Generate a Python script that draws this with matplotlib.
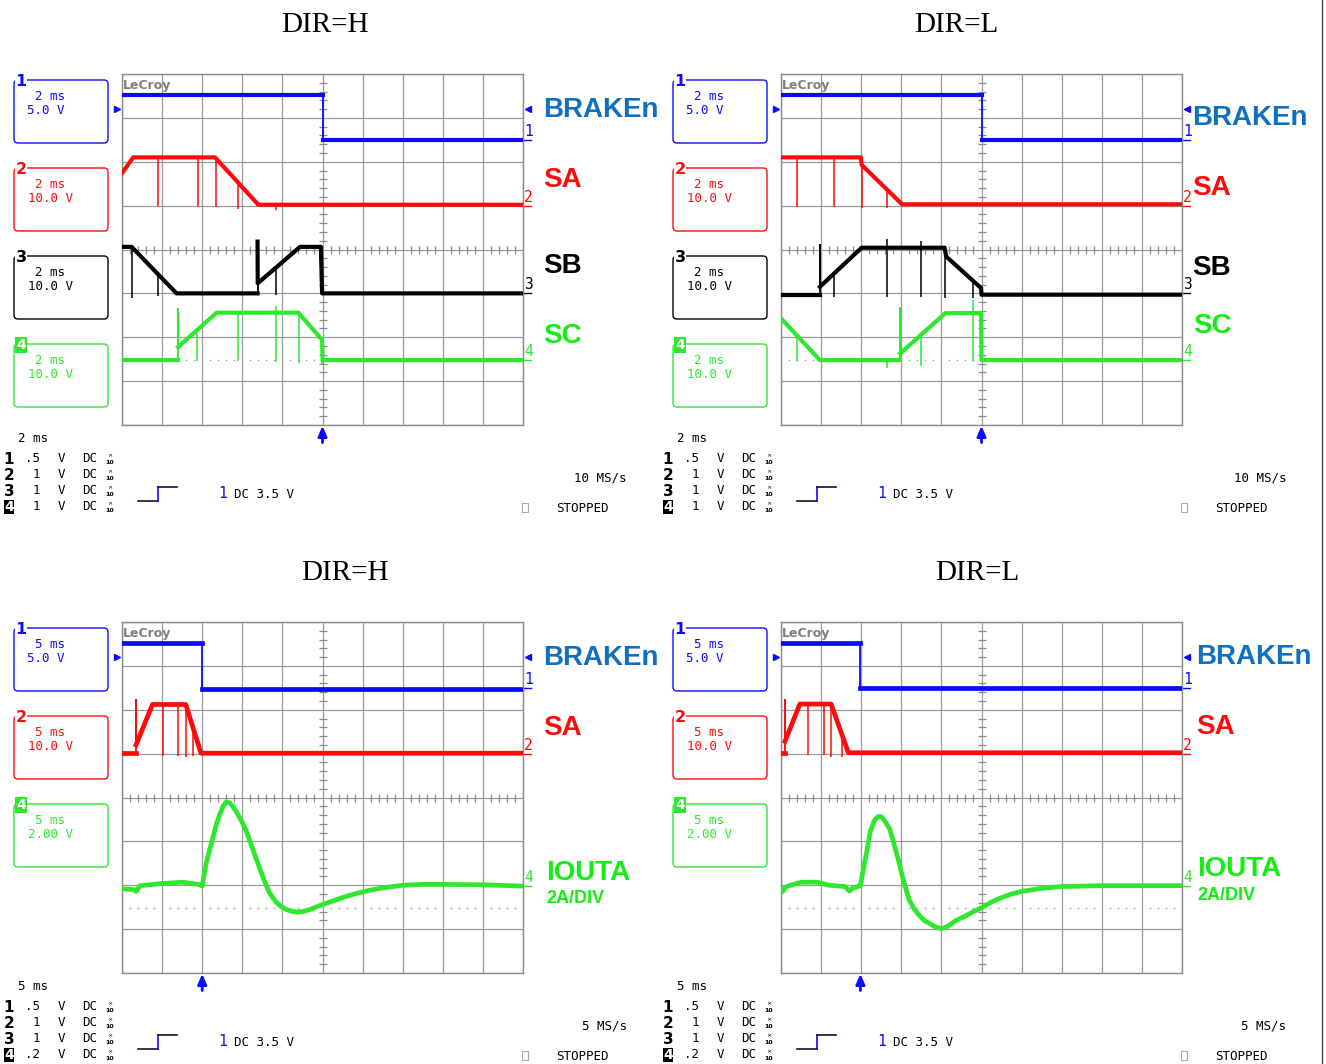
import matplotlib.pyplot as plt
import numpy as np
from matplotlib.patches import FancyBboxPatch, Rectangle

# all trace values are in screen divisions (x: 0..10, y: 0..8 from bottom)

# --- top left, DIR=H, 2 ms/div ---
tl_brake_t = [0, 5.0, 5.0, 10]
tl_brake_v = [7.52, 7.52, 6.5, 6.5]
tl_sa_t = [0, 0.28, 2.32, 3.40, 10]
tl_sa_v = [5.74, 6.1, 6.1, 5.02, 5.02]
tl_sa_spikes = [(0.89, 6.1, 5.0), (1.89, 6.1, 5.0), (2.34, 6.1, 4.98), (2.90, 5.52, 4.92), (3.84, 5.02, 4.9)]
tl_sb_t = [0, 0.24, 1.36, 3.38, 3.38, 3.385, 4.44, 4.96, 4.99, 10]
tl_sb_v = [4.06, 4.06, 3.0, 3.0, 4.18, 3.23, 4.06, 4.06, 3.0, 3.0]
tl_sb_spikes = [(0.24, 4.06, 2.9), (0.9, 3.44, 2.93), (3.83, 3.56, 2.96)]
tl_sc_t = [0, 1.40, 1.40, 1.40, 2.36, 4.40, 4.99, 5.0, 10]
tl_sc_v = [1.48, 1.48, 2.64, 1.78, 2.56, 2.56, 1.94, 1.48, 1.48]
tl_sc_spikes = [(1.88, 2.1, 1.46), (2.9, 2.56, 1.46), (3.83, 2.72, 1.43), (4.41, 2.56, 1.42), (4.99, 1.94, 1.38)]

# --- top right, DIR=L, 2 ms/div ---
tr_brake_t = [0, 5.0, 5.0, 10]
tr_brake_v = [7.52, 7.52, 6.5, 6.5]
tr_sa_t = [0, 1.99, 2.01, 3.02, 10]
tr_sa_v = [6.1, 6.1, 5.93, 5.03, 5.03]
tr_sa_spikes = [(0.41, 6.1, 4.98), (1.33, 6.1, 4.98), (2.01, 6.1, 4.95), (2.64, 5.37, 4.95)]
tr_sb_t = [0, 0.97, 0.97, 0.97, 2.01, 4.08, 4.12, 4.99, 5.0, 10]
tr_sb_v = [2.97, 2.97, 4.1, 3.15, 4.04, 4.04, 3.84, 3.12, 2.97, 2.97]
tr_sb_spikes = [(1.33, 3.44, 2.92), (2.64, 4.23, 2.92), (3.49, 4.19, 2.92), (4.1, 4.04, 2.9), (4.8, 3.28, 2.9)]
tr_sc_t = [0, 0.97, 2.97, 2.97, 2.97, 4.1, 4.99, 5.0, 10]
tr_sc_v = [2.43, 1.48, 1.48, 2.66, 1.63, 2.55, 2.55, 1.48, 1.48]
tr_sc_spikes = [(0.41, 2.03, 1.45), (2.64, 1.48, 1.3), (3.49, 2.03, 1.35), (4.79, 2.85, 1.45)]

# --- bottom left, DIR=H, 5 ms/div ---
bl_brake_t = [0, 2.0, 2.0, 10]
bl_brake_v = [7.51, 7.51, 6.48, 6.48]
bl_sa_t = [0, 0.35, 0.35, 0.35, 0.76, 1.59, 1.97, 10]
bl_sa_v = [5.01, 5.01, 6.23, 5.2, 6.12, 6.12, 5.01, 5.01]
bl_sa_spikes = [(1.01, 6.12, 4.95), (1.39, 6.12, 4.95), (1.59, 6.12, 4.92), (1.76, 5.62, 4.95)]
bl_iout_t = [0, 0.3, 0.35, 0.45, 1.0, 1.5, 1.9, 2.0, 2.05, 2.1, 2.2, 2.27, 2.35, 2.43, 2.52, 2.6,
             2.68, 2.76, 2.85, 2.93, 3.01, 3.1, 3.18, 3.3, 3.42, 3.55, 3.67, 3.76, 3.84, 3.96, 4.09,
             4.22, 4.35, 4.5, 4.67, 4.83, 5.0, 5.25, 5.5, 5.75, 6.0, 6.25, 6.5, 6.75, 7.0, 7.5, 8.0,
             9.0, 10.0]
bl_iout_v = [1.92, 1.9, 1.86, 1.99, 2.04, 2.07, 2.02, 1.98, 2.25, 2.5, 2.85, 3.1, 3.38, 3.6, 3.8, 3.9,
             3.88, 3.8, 3.68, 3.55, 3.41, 3.23, 3.03, 2.72, 2.42, 2.1, 1.84, 1.72, 1.62, 1.52, 1.45,
             1.41, 1.39, 1.4, 1.44, 1.5, 1.56, 1.64, 1.72, 1.79, 1.85, 1.9, 1.94, 1.97, 2.0, 2.02, 2.02,
             2.01, 1.98]

# --- bottom right, DIR=L, 5 ms/div ---
br_brake_t = [0, 1.98, 1.98, 10]
br_brake_v = [7.53, 7.53, 6.5, 6.5]
br_sa_t = [0, 0.1, 0.1, 0.1, 0.47, 1.25, 1.68, 10]
br_sa_v = [5.02, 5.02, 6.23, 5.28, 6.13, 6.13, 5.02, 5.02]
br_sa_spikes = [(0.68, 6.13, 4.98), (1.06, 6.13, 4.98), (1.25, 6.13, 4.92), (1.51, 5.46, 4.93)]
br_iout_t = [0, 0.05, 0.1, 0.2, 0.5, 0.9, 1.2, 1.6, 1.7, 1.78, 1.98, 2.06, 2.14, 2.22, 2.33, 2.4,
             2.45, 2.52, 2.6, 2.7, 2.78, 2.86, 2.95, 3.03, 3.12, 3.2, 3.32, 3.45, 3.57, 3.7, 3.85,
             4.0, 4.15, 4.37, 4.6, 4.8, 5.03, 5.25, 5.5, 5.75, 6.0, 6.5, 7.0, 8.0, 9.0, 10.0]
br_iout_v = [1.93, 1.86, 1.95, 1.99, 2.07, 2.07, 2.0, 1.97, 1.87, 1.93, 1.99, 2.4, 2.77, 3.2, 3.48, 3.55,
             3.57, 3.55, 3.45, 3.3, 3.07, 2.8, 2.5, 2.19, 1.9, 1.66, 1.46, 1.31, 1.2, 1.13, 1.05,
             1.01, 1.06, 1.2, 1.3, 1.4, 1.5, 1.62, 1.72, 1.8, 1.86, 1.93, 1.97, 1.99, 1.99, 1.99]

# channel ground markers on the right edge (ch1, ch2, ch3, ch4)
top_gnd = [6.5, 5.0, 3.0, 1.48]
bot_gnd = [6.5, 5.0, None, 1.98]
ref_dotted = 1.48
trig_volts = 3.5
ch1_vdiv = 5.0

top_boxes = [('1', '2 ms', '5.0 V'), ('2', '2 ms', '10.0 V'), ('3', '2 ms', '10.0 V'), ('4', '2 ms', '10.0 V')]
bot_boxes = [('1', '5 ms', '5.0 V'), ('2', '5 ms', '10.0 V'), ('4', '5 ms', '2.00 V')]
top_probe = ['.5', '1', '1', '1']
bot_probe = ['.5', '1', '1', '.2']

W, H = 1326, 1064
GW, GH = 401, 351
BLUE, RED, BLACK, GREEN = '#0a0aff', '#ff0a0a', '#000000', '#2ee82e'
LBLUE, LGREEN = '#1070c0', '#11ee11'
CH_COL = {'1': BLUE, '2': RED, '3': BLACK, '4': GREEN}
MONO = 'DejaVu Sans Mono'

fig = plt.figure(figsize=(W / 100, H / 100), dpi=100)
ov = fig.add_axes([0, 0, 1, 1])
ov.set_xlim(0, W)
ov.set_ylim(H, 0)
ov.axis('off')
ov.plot([1322, 1322], [0, H], color='#444444', lw=1)


def draw_trace(ax, t, v, col, lw):
    # thick runs, thin exactly vertical edges (like the scope's fast edges)
    run_t, run_v = [t[0]], [v[0]]
    for i in range(1, len(t)):
        if t[i] == t[i - 1]:
            if len(run_t) > 1:
                ax.plot(run_t, run_v, color=col, lw=lw, zorder=4, solid_joinstyle='round')
            ax.plot([t[i - 1], t[i]], [v[i - 1], v[i]], color=col, lw=1.3, zorder=4)
            run_t, run_v = [t[i]], [v[i]]
        else:
            run_t.append(t[i])
            run_v.append(v[i])
    if len(run_t) > 1:
        ax.plot(run_t, run_v, color=col, lw=lw, zorder=4, solid_joinstyle='round')


def scope(x0, y0, chans, gnd, trig_t, lw=3.0):
    ax = fig.add_axes([x0 / W, 1 - (y0 + GH) / H, GW / W, GH / H])
    ax.set_facecolor('none')
    ax.set_xlim(0, 10)
    ax.set_ylim(0, 8)
    ax.set_xticks(range(11))
    ax.set_yticks(range(9))
    ax.tick_params(length=0, labelbottom=False, labelleft=False)
    ax.grid(True, color='#9a9a9a', lw=0.9)
    ax.set_axisbelow(True)
    for s in ax.spines.values():
        s.set_color('#8a8a8a')
        s.set_linewidth(1.0)
    minor_x = [v for v in np.arange(0.2, 10, 0.2) if abs(v - round(v)) > 0.01]
    minor_y = [v for v in np.arange(0.2, 8, 0.2) if abs(v - round(v)) > 0.01]
    ax.plot([5] * len(minor_y), minor_y, ls='none', marker='_', ms=6, mew=0.9, color='#8a8a8a', zorder=1)
    ax.plot(minor_x, [4] * len(minor_x), ls='none', marker='|', ms=6, mew=0.9, color='#8a8a8a', zorder=1)
    ax.plot(minor_x, [ref_dotted] * len(minor_x), ls='none', marker='s', ms=1.1, mew=0,
            color='#a8a8a8', zorder=1)
    ax.text(0.03, 7.88, 'LeCroy', fontsize=9, color='#808080', fontweight='bold', va='top', ha='left')
    ax.plot([0.05, 0.97], [7.52, 7.52], color='#808080', lw=0.9)
    for t, v, spikes, col in chans:
        for xs, a, b in spikes:
            ax.vlines(xs, b, a, color=col, lw=1.1, zorder=3)
        draw_trace(ax, t, v, col, lw)
    # ground markers
    for name, lvl in zip(['1', '2', '3', '4'], gnd):
        if lvl is None:
            continue
        ax.plot([10.0, 10.2], [lvl, lvl], color=CH_COL[name], lw=1, clip_on=False)
        ax.text(10.03, lvl + 0.02, name, color=CH_COL[name], fontsize=10.5, fontfamily=MONO,
                ha='left', va='bottom', clip_on=False)
    tl = gnd[0] + trig_volts / ch1_vdiv
    ax.plot(-0.12, tl, marker='>', ms=4, color=BLUE, clip_on=False)
    ax.plot(10.13, tl, marker='<', ms=4, color=BLUE, clip_on=False)
    ax.annotate('', xy=(trig_t, -0.02), xytext=(trig_t, -0.4), annotation_clip=False,
                arrowprops=dict(arrowstyle='-|>,head_width=0.22,head_length=0.5', color=BLUE, lw=2.0,
                                mutation_scale=12, shrinkA=0, shrinkB=0))
    return ax


def boxes(dx, tops, items):
    for y0, (ch, ms, vd) in zip(tops, items):
        col = CH_COL[ch]
        ov.add_patch(FancyBboxPatch((14 + dx, y0), 94, 63, boxstyle='round,pad=0,rounding_size=4',
                                    fc='white', ec=col, lw=1))
        if ch == '4':
            ov.text(21 + dx, y0 + 1, ch, color='white', fontsize=10, fontweight='bold', ha='center',
                    va='center', bbox=dict(fc=GREEN, ec='none', pad=0.6))
        else:
            ov.text(21 + dx, y0 + 1, ch, color=col, fontsize=11.5, fontweight='bold', ha='center',
                    va='center', bbox=dict(fc='white', ec='none', pad=0.2))
        ov.text(35 + dx, y0 + 16, ms, color=col, fontsize=9, fontfamily=MONO, va='center')
        ov.text(27 + dx if len(vd) == 5 else 28 + dx, y0 + 31, vd, color=col, fontsize=9,
                fontfamily=MONO, va='center')


def footer(dx, dy, tb, probe, rate):
    ov.text(18 + dx, 438 + dy, f'{tb} ms', fontsize=9, fontfamily=MONO, va='center')
    for i, p in enumerate(probe):
        y = 459 + 16 * i + dy
        if i == 3:
            ov.text(9 + dx, y, str(i + 1), fontsize=10, fontweight='bold', color='white', ha='center',
                    va='center', bbox=dict(fc='black', ec='none', pad=0.3))
        else:
            ov.text(9 + dx, y, str(i + 1), fontsize=11, fontweight='bold', ha='center', va='center')
        ov.text(40 + dx, y, p, fontsize=9, fontfamily=MONO, ha='right', va='center')
        ov.text(58 + dx, y, 'V', fontsize=9, fontfamily=MONO, va='center')
        ov.text(82 + dx, y, 'DC', fontsize=9, fontfamily=MONO, va='center')
        ov.text(110 + dx, y - 3, '×', fontsize=4.5, ha='center', va='center')
        ov.text(110 + dx, y + 3, '10', fontsize=4.5, fontweight='bold', ha='center', va='center')
    ov.plot([138 + dx, 158 + dx], [501 + dy, 501 + dy], color='#111133', lw=1.2)
    ov.plot([158 + dx, 158 + dx], [501 + dy, 487 + dy], color=BLUE, lw=1.2)
    ov.plot([158 + dx, 177 + dx], [487 + dy, 487 + dy], color='#111133', lw=1.2)
    ov.text(218 + dx, 494 + dy, '1', color=BLUE, fontsize=10.5, fontfamily=MONO, va='center')
    ov.text(234 + dx, 494 + dy, 'DC 3.5 V', fontsize=9, fontfamily=MONO, va='center')
    ov.text(627 + dx, 478 + dy, rate, fontsize=9, fontfamily=MONO, ha='right', va='center')
    ov.add_patch(Rectangle((522 + dx, 503 + dy), 6, 9, fc='none', ec='#aaaaaa', lw=0.8))
    ov.text(556 + dx, 509 + dy, 'STOPPED', fontsize=9, fontfamily=MONO, va='center')


def side(x, y, s, col, size=20):
    ov.text(x, y, s, color=col, fontsize=size, fontweight='bold', fontfamily='Liberation Sans',
            ha='left', va='baseline')


# titles
for x, y, s in [(325, 32, 'DIR=H'), (956, 32, 'DIR=L'), (345, 580, 'DIR=H'), (977, 580, 'DIR=L')]:
    ov.text(x, y, s, fontsize=21, fontfamily='Liberation Serif', ha='center', va='baseline')

scope(122, 74, [(tl_brake_t, tl_brake_v, [], BLUE), (tl_sa_t, tl_sa_v, tl_sa_spikes, RED),
                (tl_sb_t, tl_sb_v, tl_sb_spikes, BLACK), (tl_sc_t, tl_sc_v, tl_sc_spikes, GREEN)],
      top_gnd, 5.0)
scope(781, 74, [(tr_brake_t, tr_brake_v, [], BLUE), (tr_sa_t, tr_sa_v, tr_sa_spikes, RED),
                (tr_sb_t, tr_sb_v, tr_sb_spikes, BLACK), (tr_sc_t, tr_sc_v, tr_sc_spikes, GREEN)],
      top_gnd, 5.0)
scope(122, 622, [(bl_brake_t, bl_brake_v, [], BLUE), (bl_sa_t, bl_sa_v, bl_sa_spikes, RED),
                 (bl_iout_t, bl_iout_v, [], GREEN)], bot_gnd, 2.0, lw=3.4)
scope(781, 622, [(br_brake_t, br_brake_v, [], BLUE), (br_sa_t, br_sa_v, br_sa_spikes, RED),
                 (br_iout_t, br_iout_v, [], GREEN)], bot_gnd, 1.98, lw=3.4)

for dx in (0, 659):
    boxes(dx, [80, 168, 256, 344], top_boxes)
    boxes(dx, [628, 716, 804], bot_boxes)
footer(0, 0, 2, top_probe, '10 MS/s')
footer(659, 0, 2, top_probe, '10 MS/s')
footer(0, 548, 5, bot_probe, '5 MS/s')
footer(659, 548, 5, bot_probe, '5 MS/s')

# side labels
side(543, 117, 'BRAKEn', LBLUE)
side(543, 187, 'SA', RED)
side(543, 273, 'SB', BLACK)
side(543, 343, 'SC', LGREEN)
side(1192, 125, 'BRAKEn', LBLUE)
side(1192, 195, 'SA', RED)
side(1192, 275, 'SB', BLACK)
side(1193, 333, 'SC', LGREEN)
side(543, 665, 'BRAKEn', LBLUE)
side(543, 735, 'SA', RED)
side(546, 880, 'IOUTA', LGREEN)
side(546, 903, '2A/DIV', LGREEN, 13)
side(1196, 664, 'BRAKEn', LBLUE)
side(1196, 734, 'SA', RED)
side(1197, 876, 'IOUTA', LGREEN)
side(1197, 900, '2A/DIV', LGREEN, 13)

fig.savefig('out.png', dpi=100)
